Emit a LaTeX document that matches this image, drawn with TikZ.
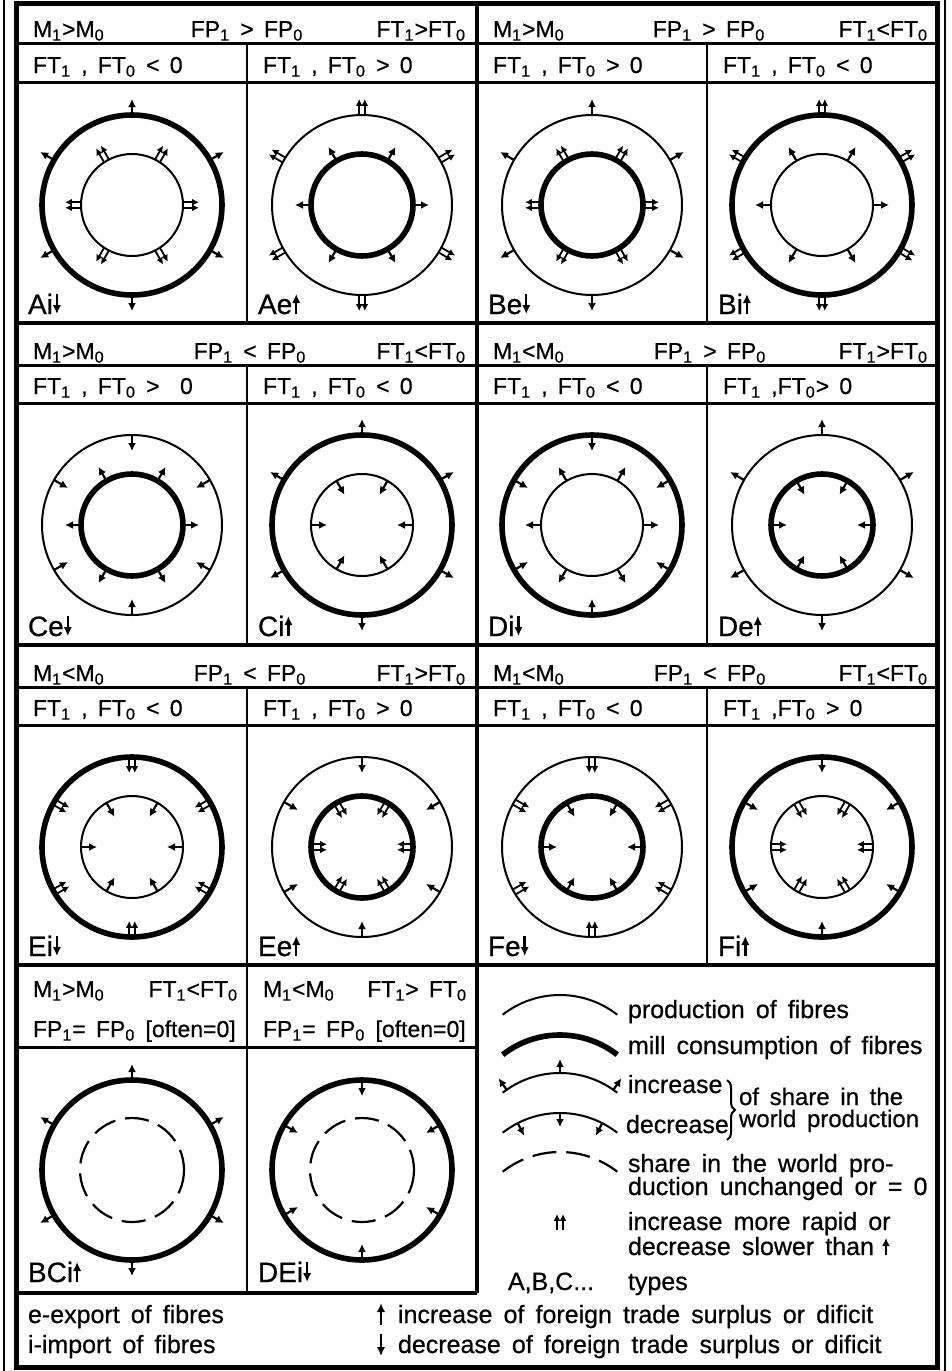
\documentclass[tikz,border=0pt]{standalone}
\usepackage{fontspec}
\setmainfont{Liberation Sans}[WordSpace=1.6,FakeBold=0.6]
\usetikzlibrary{calc,arrows.meta,decorations.pathreplacing}
\newcommand\sbs[1]{\textsubscript{#1}}
% arrows around a ring: cx cy r startangle dir(1 out/-1 in) double(0/1)
\newcommand\ringarr[6]{%
  \foreach \k in {0,...,5}{%
    \pgfmathsetmacro\ang{#4+60*\k}%
    \pgfmathsetmacro\angp{\ang+90}%
    \pgfmathsetmacro\rend{#3+(#5)*16}%
    \ifnum#6=0
      \draw[arr] ($(#1,#2)+(\ang:#3)$) -- ($(#1,#2)+(\ang:\rend)$);
    \else
      \draw[arrd] ($(#1,#2)+(\ang:#3)+(\angp:2.8)$) -- ($(#1,#2)+(\ang:\rend)+(\angp:2.8)$);
      \draw[arrd] ($(#1,#2)+(\ang:#3)-(\angp:2.8)$) -- ($(#1,#2)+(\ang:\rend)-(\angp:2.8)$);
    \fi
  }}
% cx cy outerstyle innerstyle outerdir outerdbl innerdir innerdbl
\newcommand\panel[8]{%
  \draw[#3] (#1,#2) circle[radius=90];
  \draw[#4] (#1,#2) circle[radius=51];
  \ringarr{#1}{#2}{90}{30}{#5}{#6}
  \ringarr{#1}{#2}{51}{0}{#7}{#8}}
\newcommand\hdr[8]{%
  \node[ht,anchor=base west] (#1l) at (#2,#5) {#6};
  \node[ht,anchor=base] (#1m) at (#3,#5) {#7};
  \node[ht,anchor=base east] (#1r) at (#4,#5) {#8};}
\newcommand\labup[4]{%
  \node[pl,anchor=base west] (#1) at (#2,#3) {#4};
  \draw[larr] ($(#1.base east)+(4,0)$) -- ++(0,-20);}
\newcommand\labdn[4]{%
  \node[pl,anchor=base west] (#1) at (#2,#3) {#4};
  \draw[larr] ($(#1.base east)+(4,-20)$) -- ++(0,20);}
\newcommand\legarc[2]{\draw[#2] (502.7,#1+19.7) arc[start angle=-128,end angle=-52,radius=93];}
\begin{document}
\begin{tikzpicture}[x=0.5pt,y=-0.5pt,
  pline/.style={line width=1pt},
  mline/.style={line width=2.8pt},
  dline/.style={line width=1.1pt,dash pattern=on 12pt off 5pt},
  arr/.style={line width=1.1pt,-{Latex[length=4pt,width=4pt]}},
  arrd/.style={line width=0.9pt,-{Latex[length=3.4pt,width=3.4pt]}},
  larr/.style={line width=1.2pt,-{Latex[length=4.5pt,width=4.2pt]}},
  ht/.style={inner sep=0pt,outer sep=0pt,font=\fontsize{11.5}{13}\selectfont},
  lt/.style={inner sep=0pt,outer sep=0pt,font=\fontsize{12.5}{15}\selectfont},
  pl/.style={inner sep=0pt,outer sep=0pt,font=\fontsize{14}{16}\selectfont}]
\useasboundingbox (0,0) rectangle (952,1371);
% frame
\draw[line width=1pt] (4,0) -- (4,1371) (945,0) -- (945,1371);
\draw[line width=2.5pt] (16,3) rectangle (937,1367);
% grid
\draw[line width=2pt] (16,323) -- (937,323) (16,645) -- (937,645) (16,965) -- (937,965);
\draw[line width=1.5pt] (16,43)--(937,43) (16,82)--(937,82) (16,365)--(937,365) (16,403)--(937,403)
  (16,687)--(937,687) (16,725)--(937,725) (16,1047)--(477,1047);
\draw[line width=2pt] (477,3) -- (477,1293) (16,1293) -- (477,1293);
\draw[line width=1.3pt] (247,43)--(247,323) (707,43)--(707,323) (247,365)--(247,645) (707,365)--(707,645)
  (247,687)--(247,965) (707,687)--(707,965) (247,965)--(247,1293);
% headers
\hdr{h1a}{33}{247}{466}{37}{M\sbs1>M\sbs0}{FP\sbs1 > FP\sbs0}{FT\sbs1>FT\sbs0}
\hdr{h1b}{493}{709}{928}{37}{M\sbs1>M\sbs0}{FP\sbs1 > FP\sbs0}{FT\sbs1<FT\sbs0}
\node[ht,anchor=base west] (s1a) at (33,73) {FT\sbs1 , FT\sbs0 < 0};
\node[ht,anchor=base west] (s1b) at (263,73) {FT\sbs1 , FT\sbs0 > 0};
\node[ht,anchor=base west] (s1c) at (493,73) {FT\sbs1 , FT\sbs0 > 0};
\node[ht,anchor=base west] (s1d) at (723,73) {FT\sbs1 , FT\sbs0 < 0};
\hdr{h2a}{33}{250}{466}{359}{M\sbs1>M\sbs0}{FP\sbs1 < FP\sbs0}{FT\sbs1<FT\sbs0}
\hdr{h2b}{493}{710}{928}{359}{M\sbs1<M\sbs0}{FP\sbs1 > FP\sbs0}{FT\sbs1>FT\sbs0}
\node[ht,anchor=base west] (s2a) at (33,394) {FT\sbs1 , FT\sbs0 >\ \ 0};
\node[ht,anchor=base west] (s2b) at (263,394) {FT\sbs1 , FT\sbs0 < 0};
\node[ht,anchor=base west] (s2c) at (493,394) {FT\sbs1 , FT\sbs0 < 0};
\node[ht,anchor=base west] (s2d) at (723,394) {FT\sbs1 ,FT\sbs0> 0};
\hdr{h3a}{33}{250}{466}{681}{M\sbs1<M\sbs0}{FP\sbs1 < FP\sbs0}{FT\sbs1>FT\sbs0}
\hdr{h3b}{493}{710}{928}{681}{M\sbs1<M\sbs0}{FP\sbs1 < FP\sbs0}{FT\sbs1<FT\sbs0}
\node[ht,anchor=base west] (s3a) at (33,716) {FT\sbs1 , FT\sbs0 < 0};
\node[ht,anchor=base west] (s3b) at (263,716) {FT\sbs1 , FT\sbs0 > 0};
\node[ht,anchor=base west] (s3c) at (493,716) {FT\sbs1 , FT\sbs0 < 0};
\node[ht,anchor=base west] (s3d) at (723,716) {FT\sbs1 ,FT\sbs0 > 0};
\node[ht,anchor=base west] (h4a) at (33,997) {M\sbs1>M\sbs0};
\node[ht,anchor=base east] (h4b) at (238,997) {FT\sbs1<FT\sbs0};
\node[ht,anchor=base west] (h4c) at (263,997) {M\sbs1<M\sbs0};
\node[ht,anchor=base east] (h4d) at (467,997) {FT\sbs1> FT\sbs0};
\node[ht,anchor=base west] (h4e) at (33,1037) {FP\sbs1= FP\sbs0 [often=0]};
\node[ht,anchor=base west] (h4f) at (263,1037) {FP\sbs1= FP\sbs0 [often=0]};
% panels
\panel{132}{205}{mline}{pline}{1}{0}{1}{1}
\panel{362}{205}{pline}{mline}{1}{1}{1}{0}
\panel{592}{205}{pline}{mline}{1}{0}{1}{1}
\panel{822}{205}{mline}{pline}{1}{1}{1}{0}
\panel{132}{525}{pline}{mline}{-1}{0}{1}{0}
\panel{362}{525}{mline}{pline}{1}{0}{-1}{0}
\panel{592}{525}{mline}{pline}{-1}{0}{1}{0}
\panel{822}{525}{pline}{mline}{1}{0}{-1}{0}
\panel{132}{847}{mline}{pline}{-1}{1}{-1}{0}
\panel{362}{847}{pline}{mline}{-1}{0}{-1}{1}
\panel{592}{847}{pline}{mline}{-1}{1}{-1}{0}
\panel{822}{847}{mline}{pline}{-1}{0}{-1}{1}
\draw[mline] (132,1170) circle[radius=90];
\draw[dline] (132,1170) circle[radius=52];
\ringarr{132}{1170}{90}{30}{1}{0}
\draw[mline] (362,1170) circle[radius=90];
\draw[dline] (362,1170) circle[radius=52];
\ringarr{362}{1170}{90}{30}{-1}{0}
% panel labels
\labdn{nAi}{28}{314}{Ai}
\labup{nAe}{258}{314}{Ae}
\labdn{nBe}{488}{314}{Be}
\labup{nBi}{718}{314}{Bi}
\labdn{nCe}{28}{636}{Ce}
\labup{nCi}{258}{636}{Ci}
\labdn{nDi}{488}{636}{Di}
\labup{nDe}{718}{636}{De}
\labdn{nEi}{28}{956}{Ei}
\labup{nEe}{258}{956}{Ee}
\labdn{nFe}{488}{956}{Fe}
\labup{nFi}{718}{956}{Fi}
\labup{nBCi}{28}{1282}{BCi}
\labdn{nDEi}{258}{1282}{DEi}
% legend
\legarc{995}{pline}
\legarc{1035}{mline}
\legarc{1073}{pline}
\foreach \a in {-125,-90,-55} \draw[arr] ($(560,1166)+(\a:93)$) -- ($(560,1166)+(\a:107)$);
\legarc{1113}{pline}
\foreach \a in {-117,-90,-63} \draw[arr] ($(560,1206)+(\a:93)$) -- ($(560,1206)+(\a:79)$);
\legarc{1152}{dline}
\node[lt,anchor=base west] (lg1) at (628,1018) {production of fibres};
\node[lt,anchor=base west] (lg2) at (628,1054) {mill consumption of fibres};
\node[lt,anchor=base west] (lg3) at (628,1093) {increase};
\node[lt,anchor=base west] (lg4) at (626,1133) {decrease};
\draw[line width=1pt,decorate,decoration={brace,amplitude=4pt}] (727,1080) -- (727,1140);
\node[lt,anchor=base west,font=\fontsize{12}{14}\selectfont] (lg5) at (739,1105) {of share in the};
\node[lt,anchor=base west,font=\fontsize{12}{14}\selectfont] (lg6) at (739,1127) {world production};
\node[lt,anchor=base west] (lg7) at (628,1172) {share in the world pro-};
\node[lt,anchor=base west] (lg8) at (628,1195) {duction unchanged or = 0};
\draw[arrd] (557,1230) -- (557,1214);
\draw[arrd] (563,1230) -- (563,1214);
\node[lt,anchor=base west] (lg9) at (628,1230) {increase more rapid or};
\node[lt,anchor=base west] (lg10) at (628,1255) {decrease slower than};
\draw[arr] ($(lg10.base east)+(12,0)$) -- ++(0,-17);
\node[lt,anchor=base west] (lg11) at (508,1290) {A,B,C...};
\node[lt,anchor=base west] (lg12) at (628,1290) {types};
% footer
\node[lt,anchor=base west] (f1) at (28,1323) {e-export of fibres};
\node[lt,anchor=base west] (f2) at (28,1353) {i-import of fibres};
\node[lt,anchor=base west] (f3) at (398,1323) {increase of foreign trade surplus or dificit};
\node[lt,anchor=base west] (f4) at (398,1353) {decrease of foreign trade surplus or dificit};
\draw[larr] (381,1325) -- (381,1303);
\draw[larr] (381,1334) -- (381,1356);
\end{tikzpicture}
\end{document}
